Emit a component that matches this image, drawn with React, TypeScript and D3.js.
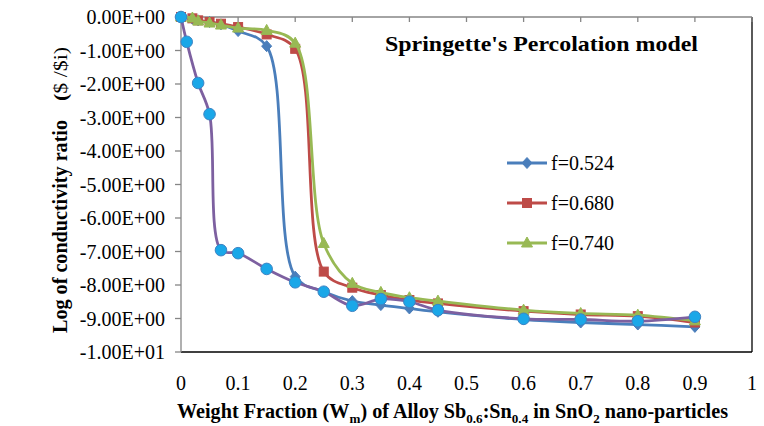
import React from 'react';
import * as d3 from 'd3';

// weight fraction values (x) for the three percolation curves
const xValues = [0, 0.02, 0.03, 0.05, 0.07, 0.1, 0.15, 0.2, 0.25, 0.3, 0.35, 0.4, 0.45, 0.6, 0.7, 0.8, 0.9];
const f524 = [0, -0.05, -0.1, -0.15, -0.22, -0.42, -0.87, -7.75, -8.2, -8.48, -8.6, -8.7, -8.8, -9.03, -9.12, -9.18, -9.25];
const f680 = [0, -0.04, -0.1, -0.15, -0.2, -0.3, -0.52, -0.95, -7.6, -8.08, -8.3, -8.45, -8.55, -8.78, -8.88, -8.93, -9.12];
const f740 = [0, -0.03, -0.12, -0.18, -0.24, -0.33, -0.4, -0.78, -6.76, -7.95, -8.22, -8.38, -8.48, -8.75, -8.85, -8.9, -9.07];

// experimental series (purple line, cyan dots)
const xExp = [0, 0.01, 0.03, 0.05, 0.07, 0.1, 0.15, 0.2, 0.25, 0.3, 0.35, 0.4, 0.45, 0.6, 0.7, 0.8, 0.9];
const yExp = [0, -0.74, -1.97, -2.9, -6.96, -7.05, -7.52, -7.92, -8.2, -8.62, -8.42, -8.5, -8.75, -9.01, -9.03, -9.08, -8.95];

const xTicks = [0, 0.1, 0.2, 0.3, 0.4, 0.5, 0.6, 0.7, 0.8, 0.9, 1];
const xTickLabels = ['0', '0.1', '0.2', '0.3', '0.4', '0.5', '0.6', '0.7', '0.8', '0.9', '1'];
const yTicks = [0, -1, -2, -3, -4, -5, -6, -7, -8, -9, -10];

const legendNames = ['f=0.524', 'f=0.680', 'f=0.740'];

// Excel style scientific label, e.g. -1.00E+01
const sciFormat = (v: number) => {
  if (v === 0) return '0.00E+00';
  const exp = Math.floor(Math.log10(Math.abs(v)));
  const mant = v / Math.pow(10, exp);
  const sign = exp < 0 ? '-' : '+';
  return `${mant.toFixed(2)}E${sign}${String(Math.abs(exp)).padStart(2, '0')}`;
};

const W = 764;
const H = 426;
const margin = { top: 17, right: 12, bottom: 74, left: 181 };
const FONT = 'Liberation Serif';

const series = [
  { name: legendNames[0], x: xValues, y: f524, color: '#4A7EBB', marker: 'diamond' },
  { name: legendNames[1], x: xValues, y: f680, color: '#BE4B48', marker: 'square' },
  { name: legendNames[2], x: xValues, y: f740, color: '#98B954', marker: 'triangle' },
  { name: 'exp', x: xExp, y: yExp, color: '#7D60A0', marker: 'circle' },
];

const Marker = ({ type, cx, cy, color }: { type: string; cx: number; cy: number; color: string }) => {
  if (type === 'diamond') {
    return <path d={`M${cx},${cy - 5.5}L${cx + 5},${cy}L${cx},${cy + 5.5}L${cx - 5},${cy}Z`} fill={color} stroke={color} />;
  }
  if (type === 'square') {
    return <rect x={cx - 4.5} y={cy - 4.5} width={9} height={9} fill={color} stroke={color} />;
  }
  if (type === 'triangle') {
    return <path d={`M${cx},${cy - 6}L${cx + 5.5},${cy + 4}L${cx - 5.5},${cy + 4}Z`} fill={color} stroke={color} />;
  }
  return <circle cx={cx} cy={cy} r={5.8} fill="#1AA7E8" stroke="#3D84C4" strokeWidth={1} />;
};

export default function App() {
  const x = d3.scaleLinear().domain([0, 1]).range([margin.left, W - margin.right]);
  const y = d3.scaleLinear().domain([0, -10]).range([margin.top, H - margin.bottom]);
  const x0 = x(0), x1 = x(1), y0 = y(0), y1 = y(-10);

  const line = d3.line<[number, number]>()
    .x(d => x(d[0]))
    .y(d => y(d[1]))
    .curve(d3.curveCatmullRom.alpha(0.5));

  const legendY = [163, 203, 243];

  return (
    <svg width={W} height={H} style={{ position: 'absolute', left: 0, top: 0, background: '#fff' }}>
      <rect width={W} height={H} fill="#fff" />

      {/* plot border: bottom and right black */}
      <line x1={x0} x2={x1} y1={y1} y2={y1} stroke="#000" strokeWidth={1.3} />
      <line x1={x1} x2={x1} y1={y0} y2={y1} stroke="#000" strokeWidth={1.3} />

      {/* x axis at y = 0 (top) */}
      <line x1={x0} x2={x1} y1={y0} y2={y0} stroke="#868686" strokeWidth={1.3} />
      {xTicks.map(t => (
        <line key={t} x1={x(t)} x2={x(t)} y1={y0} y2={y0 + 5} stroke="#868686" strokeWidth={1.3} />
      ))}
      {xTicks.map((t, i) => (
        <text key={t} x={x(t)} y={390} textAnchor="middle" fontFamily={FONT} fontSize={20} fill="#000">{xTickLabels[i]}</text>
      ))}

      {/* y axis */}
      <line x1={x0} x2={x0} y1={y0} y2={y1} stroke="#868686" strokeWidth={1.3} />
      {yTicks.map(t => (
        <line key={t} x1={x0 - 6} x2={x0} y1={y(t)} y2={y(t)} stroke="#868686" strokeWidth={1.3} />
      ))}
      {yTicks.map(t => (
        <text key={t} x={165} y={y(t)} dy="0.35em" textAnchor="end" fontFamily={FONT} fontSize={20} fill="#000">{sciFormat(t)}</text>
      ))}

      {/* series */}
      {series.map(s => {
        const pts = s.x.map((v, i) => [v, s.y[i]] as [number, number]);
        return (
          <g key={s.name}>
            <path d={line(pts) || ''} fill="none" stroke={s.color} strokeWidth={2.8} />
            {pts.map((p, i) => (
              <Marker key={i} type={s.marker} cx={x(p[0])} cy={y(p[1])} color={s.color} />
            ))}
          </g>
        );
      })}

      {/* title */}
      <text x={385} y={51} fontFamily={FONT} fontSize={21} fontWeight="bold" textLength={313} lengthAdjust="spacingAndGlyphs" fill="#000">
        Springette's Percolation model
      </text>

      {/* legend */}
      {series.slice(0, 3).map((s, i) => (
        <g key={s.name}>
          <line x1={507} x2={547} y1={legendY[i]} y2={legendY[i]} stroke={s.color} strokeWidth={2.8} />
          <Marker type={s.marker} cx={527} cy={legendY[i]} color={s.color} />
          <text x={551} y={legendY[i]} dy="0.35em" fontFamily={FONT} fontSize={20} fill="#000">{s.name}</text>
        </g>
      ))}

      {/* x axis title */}
      <text x={177} y={418} fontFamily={FONT} fontSize={20} fontWeight="bold" textLength={551} lengthAdjust="spacingAndGlyphs" fill="#000">
        Weight Fraction (W<tspan fontSize={13} dy={5}>m</tspan><tspan dy={-5}>) of Alloy Sb</tspan>
        <tspan fontSize={13} dy={5}>0.6</tspan><tspan dy={-5}>:Sn</tspan>
        <tspan fontSize={13} dy={5}>0.4</tspan><tspan dy={-5}> in SnO</tspan>
        <tspan fontSize={13} dy={5}>2</tspan><tspan dy={-5}> nano-particles</tspan>
      </text>

      {/* y axis title */}
      <g transform="translate(67,333) rotate(-90)">
        <text x={0} y={0} fontFamily={FONT} fontSize={20} fontWeight="bold" textLength={213} lengthAdjust="spacingAndGlyphs" fill="#000">
          Log of conductivity ratio
        </text>
      </g>
      <g transform="translate(67,101) rotate(-90)">
        <text x={0} y={0} fontFamily={FONT} fontSize={19} textLength={54} lengthAdjust="spacingAndGlyphs" fill="#000">
          <tspan fontWeight="bold">(</tspan>$ /$i)
        </text>
      </g>
    </svg>
  );
}
